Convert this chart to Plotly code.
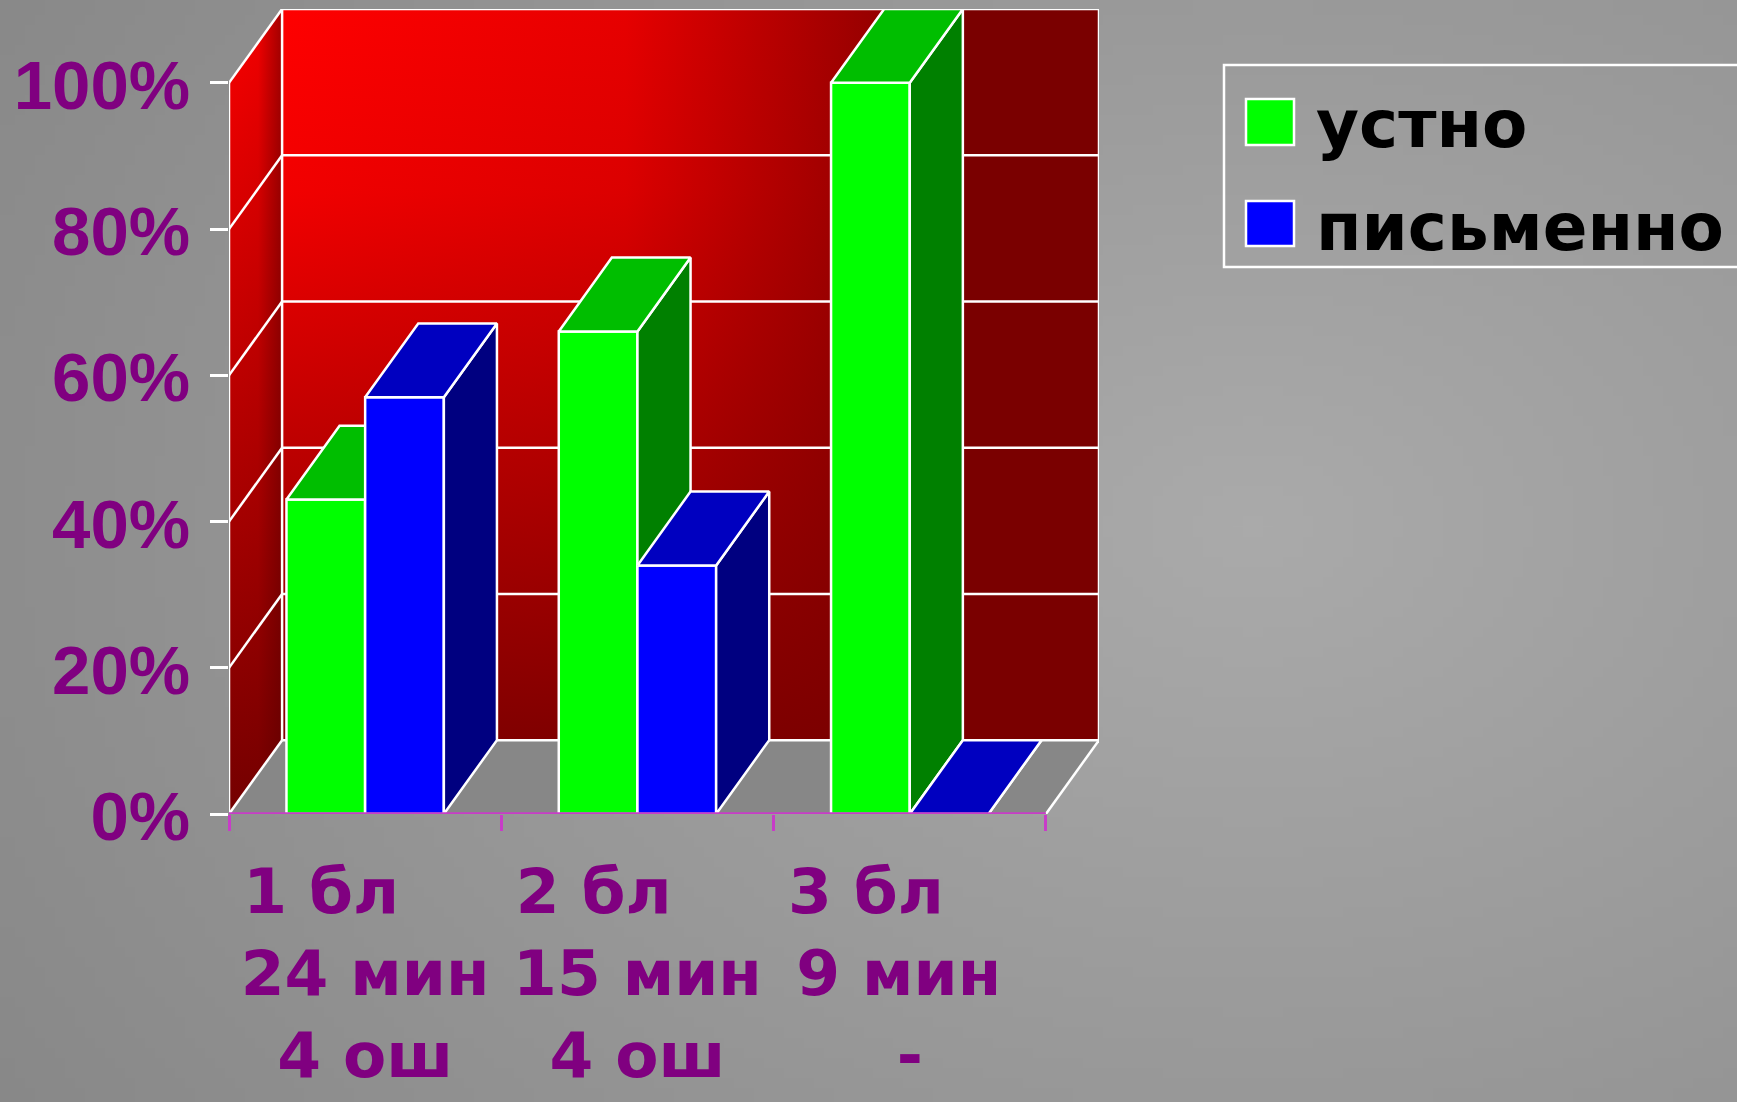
import base64
import struct
import zlib

import plotly.graph_objects as go

# ---------------- data ----------------
category_line1 = ["1 бл", "2 бл", "3 бл"]
category_line2 = ["24 мин", "15 мин", "9 мин"]
category_line3 = ["4 ош", "4 ош", "-"]
series_names = ["устно", "письменно"]
oral_values = [43, 66, 100]
written_values = [57, 34, 0]
y_tick_values = [0, 20, 40, 60, 80, 100]

# ---------------- style ----------------
W, H = 1737, 1102
PURPLE = "#800080"
MAGENTA = "#C83CC8"
front_colors = ["#00FF00", "#0000FF"]
top_colors = ["#00BE00", "#0000C0"]
side_colors = ["#008000", "#000080"]
BAR_W = 0.289
DEPTH_X = 0.195
DEPTH_Y = 10.1
EDGE = 2.5

n_cat = len(category_line1)
x_range = [-0.5, n_cat - 0.5 + DEPTH_X]
y_range = [0, y_tick_values[-1] + DEPTH_Y]
x_dom = [229 / W, 1099 / W]
y_dom = [(H - 814) / H, (H - 9) / H]

# trailing non-breaking spaces mimic the slide's text alignment
pad1 = ["\u00a0" * 4, "\u00a0" * 4, "\u00a0" * 4]
pad2 = ["", "", "\u00a0"]
tick_text = [
    f"{a}{p1}<br>{b}{p2}<br>{c}"
    for a, b, c, p1, p2 in zip(category_line1, category_line2, category_line3, pad1, pad2)
]


# ---------------- background gradient image ----------------
def make_png(w, h, fn):
    raw = bytearray()
    for j in range(h):
        raw.append(0)
        for i in range(w):
            v = fn(i, j)
            raw += bytes((v, v, v))

    def chunk(t, d):
        c = struct.pack(">I", len(d)) + t + d
        return c + struct.pack(">I", zlib.crc32(t + d) & 0xFFFFFFFF)

    png = (b"\x89PNG\r\n\x1a\n"
           + chunk(b"IHDR", struct.pack(">IIBBBBB", w, h, 8, 2, 0, 0, 0))
           + chunk(b"IDAT", zlib.compress(bytes(raw), 9))
           + chunk(b"IEND", b""))
    return "data:image/png;base64," + base64.b64encode(png).decode()


def bg_pix(i, j):
    cx, cy = 125.0, 52.0
    d = (((i - cx) / 130.0) ** 2 + ((j - cy) / 95.0) ** 2) ** 0.5
    return max(0, min(255, int(round(170 - 30 * min(d, 1.3)))))


bg_src = make_png(174, 110, bg_pix)

fig = go.Figure()

x0, x1 = -0.5, n_cat - 0.5
top = y_tick_values[-1]


def poly(xs, ys, axis_id="", **kw):
    return go.Scatter(x=list(xs) + [xs[0]], y=list(ys) + [ys[0]], mode="lines",
                      fill="toself", hoverinfo="skip", showlegend=False,
                      xaxis="x" + axis_id, yaxis="y" + axis_id, **kw)


def lines(segs, color, width, axis_id=""):
    xs, ys = [], []
    for (xa, ya), (xb, yb) in segs:
        xs += [xa, xb, None]
        ys += [ya, yb, None]
    return go.Scatter(x=xs, y=ys, mode="lines", line=dict(color=color, width=width),
                      hoverinfo="skip", showlegend=False,
                      xaxis="x" + axis_id, yaxis="y" + axis_id)


# ---- walls & floor (main subplot) ----
bx0, bx1 = x0 + DEPTH_X, x1 + DEPTH_X
# floor
fig.add_trace(poly([x0, x1, bx1, bx0], [0, 0, DEPTH_Y, DEPTH_Y],
                   fillcolor="#878787", line=dict(width=0)))
# back wall with gradients
fig.add_trace(poly([bx0, bx1, bx1, bx0], [DEPTH_Y, DEPTH_Y, top + DEPTH_Y, top + DEPTH_Y],
                   line=dict(width=0),
                   fillgradient=dict(type="horizontal",
                                     colorscale=[[0, "#FF0000"], [0.42, "#E60000"],
                                                 [0.84, "#7A0000"], [1, "#7A0000"]])))
fig.add_trace(poly([bx0, bx1, bx1, bx0], [DEPTH_Y, DEPTH_Y, top + DEPTH_Y, top + DEPTH_Y],
                   line=dict(width=0),
                   fillgradient=dict(type="vertical",
                                     colorscale=[[0, "rgba(122,0,0,0.95)"],
                                                 [0.75, "rgba(122,0,0,0.1)"],
                                                 [1, "rgba(122,0,0,0)"]])))
# side wall
fig.add_trace(poly([x0, x0, bx0, bx0], [0, top, top + DEPTH_Y, DEPTH_Y],
                   line=dict(width=0),
                   fillgradient=dict(type="vertical",
                                     colorscale=[[0, "#740000"], [1, "#FA0000"]])))
fig.add_trace(poly([x0, x0, bx0, bx0], [0, top, top + DEPTH_Y, DEPTH_Y],
                   line=dict(width=0),
                   fillgradient=dict(type="horizontal",
                                     colorscale=[[0, "rgba(90,0,0,0)"], [0.55, "rgba(90,0,0,0.05)"],
                                                 [1, "rgba(90,0,0,0.55)"]])))
# white grid / edges
segs = []
for v in y_tick_values:
    segs.append(((bx0, v + DEPTH_Y), (bx1, v + DEPTH_Y)))
    segs.append(((x0, v), (bx0, v + DEPTH_Y)))
segs += [((bx0, DEPTH_Y), (bx0, top + DEPTH_Y)),
         ((bx1, DEPTH_Y), (bx1, top + DEPTH_Y)),
         ((x0, 0), (x0, top)),
         ((x1, 0), (bx1, DEPTH_Y))]
fig.add_trace(lines(segs, "white", EDGE))

# ---- bars, one overlay subplot each, drawn left to right ----
series_values = [oral_values, written_values]
offsets = [-BAR_W, 0.0]
axis_no = 2
bar_axes = []
for ci in range(n_cat):
    for si in range(2):
        v = series_values[si][ci]
        aid = str(axis_no)
        bar_axes.append(aid)
        xl = ci + offsets[si]
        xr = xl + BAR_W
        fig.add_trace(go.Bar(x=[ci], y=[v], width=[BAR_W], offset=[offsets[si]],
                             marker=dict(color=front_colors[si], line=dict(color="white", width=EDGE)),
                             name=series_names[si], showlegend=False, hoverinfo="skip",
                             xaxis="x" + aid, yaxis="y" + aid))
        fig.add_trace(poly([xr, xr, xr + DEPTH_X, xr + DEPTH_X], [0, v, v + DEPTH_Y, DEPTH_Y], aid,
                           fillcolor=side_colors[si], line=dict(color="white", width=EDGE)))
        fig.add_trace(poly([xl, xr, xr + DEPTH_X, xl + DEPTH_X], [v, v, v + DEPTH_Y, v + DEPTH_Y], aid,
                           fillcolor=top_colors[si], line=dict(color="white", width=EDGE)))
        axis_no += 1

# ---- magenta category baseline on top ----
base_id = str(axis_no)
fig.add_trace(lines([((x0, 0), (x1, 0))], MAGENTA, 3.5, base_id))

# ---------------- layout ----------------
layout = dict(
    width=W, height=H, autosize=False,
    margin=dict(l=0, r=0, t=0, b=0, autoexpand=False),
    paper_bgcolor="#979797",
    plot_bgcolor="rgba(0,0,0,0)",
    barmode="overlay",
    showlegend=False,
    images=[dict(source=bg_src, xref="paper", yref="paper", x=0, y=1, sizex=1, sizey=1,
                 sizing="stretch", layer="below", xanchor="left", yanchor="top")],
    xaxis=dict(domain=x_dom, range=x_range, anchor="y", showgrid=False, zeroline=False,
               showline=False, ticks="", tickvals=list(range(n_cat)), ticktext=tick_text,
               tickfont=dict(family="DejaVu Sans", size=63, color=PURPLE, weight="bold"),
               ticklabelstandoff=35, automargin=False, fixedrange=True),
    yaxis=dict(domain=y_dom, range=y_range, anchor="x", showgrid=False, zeroline=False,
               showline=False, ticks="outside", ticklen=18, tickwidth=2.5, tickcolor="white",
               tickvals=y_tick_values, ticktext=[f"{v}%" for v in y_tick_values],
               tickfont=dict(family="Liberation Sans", size=69, color=PURPLE, weight="bold"),
               ticklabelstandoff=6, ticklabelshift=2, automargin=False, fixedrange=True),
)
for aid in bar_axes + [base_id]:
    layout["xaxis" + aid] = dict(overlaying="x", range=x_range, anchor="y" + aid, visible=False,
                                 automargin=False, fixedrange=True)
    layout["yaxis" + aid] = dict(overlaying="y", range=y_range, anchor="x" + aid, visible=False,
                                 automargin=False, fixedrange=True)
layout["xaxis" + base_id].update(visible=True, showticklabels=False, showgrid=False, zeroline=False,
                                  showline=False, ticks="outside", ticklen=16, tickwidth=3,
                                  tickcolor=MAGENTA, tickvals=[x0 + k for k in range(n_cat + 1)])
fig.update_layout(**layout)

# ---------------- legend (drawn) ----------------
leg_x0, leg_x1 = 1224 / W, 1.01
fig.add_shape(type="rect", xref="paper", yref="paper", x0=leg_x0, x1=leg_x1,
              y0=1 - 267 / H, y1=1 - 65 / H, line=dict(color="white", width=2.5),
              fillcolor="rgba(0,0,0,0)")
leg_rows = [(99, 145, 125), (201, 246, 227)]
for si, (ya, yb, yc) in enumerate(leg_rows):
    fig.add_shape(type="rect", xref="paper", yref="paper", x0=1246 / W, x1=1294 / W,
                  y0=1 - yb / H, y1=1 - ya / H, line=dict(color="white", width=2.5),
                  fillcolor=front_colors[si])
    fig.add_annotation(xref="paper", yref="paper", x=1314 / W, y=1 - yc / H, xanchor="left",
                       yanchor="middle", showarrow=False, text=series_names[si],
                       font=dict(family="DejaVu Sans", size=66, color="black", weight="bold"))

fig.write_html("out.html", config={"displayModeBar": False, "responsive": False},
               post_script="document.body.style.margin='0px';document.body.style.overflow='hidden';")
